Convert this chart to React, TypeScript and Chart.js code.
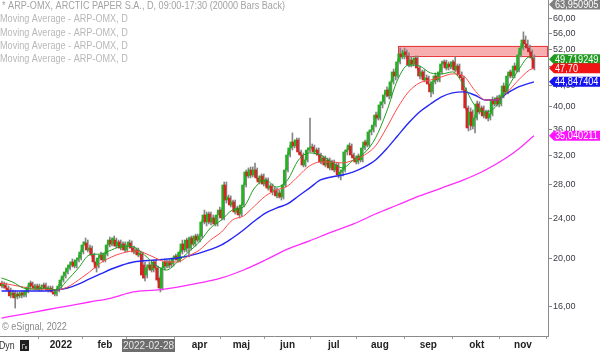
import React, { useEffect, useRef } from 'react';
import { Chart, registerables } from 'chart.js';
Chart.register(...registerables);

// ---- axis / categories ----
const monthIdx = [27, 47, 67, 90, 109, 130, 151, 172, 194, 216, 237];
const monthLabels = ['2022', 'feb', 'mar', 'apr', 'maj', 'jun', 'jul', 'aug', 'sep', 'okt', 'nov'];
const yTicks = [16, 20, 24, 28, 32, 36, 40, 44, 48, 52, 56, 60];

// ---- candles (ARP-OMX daily) ----
const opens = [
  17.84, 17.59, 17.67, 17.43, 17.27, 16.88, 17.04, 16.73, 16.96, 16.81,
  17.04, 16.88, 17.12, 17.51, 17.84, 17.59, 17.43, 17.59, 17.35, 17.51,
  17.67, 17.43, 17.27, 17.43, 17.12, 16.96, 17.27, 17.59, 18.08, 18.42,
  18.76, 19.11, 19.37, 19.64, 19.28, 19.82, 20.00, 20.56, 21.23, 21.43,
  20.75, 20.94, 20.28, 19.64, 19.28, 20.00, 20.28, 19.82, 20.37, 21.23,
  21.72, 21.33, 21.72, 21.13, 21.53, 20.94, 21.33, 20.75, 21.13, 21.43,
  20.94, 20.56, 20.75, 20.28, 20.37, 19.37, 18.50, 19.11, 19.37, 18.93,
  19.64, 19.11, 18.25, 17.43, 19.11, 19.64, 19.28, 19.64, 19.46, 20.00,
  20.19, 19.82, 20.56, 21.33, 20.75, 21.72, 20.94, 21.92, 21.33, 22.12,
  21.72, 22.12, 23.59, 24.36, 23.59, 24.47, 23.59, 24.03, 23.38, 24.36,
  24.92, 24.03, 27.95, 26.09, 26.33, 25.50, 25.85, 24.70, 25.15, 24.47,
  25.50, 27.95, 29.67, 29.13, 29.94, 29.26, 29.94, 28.87, 28.34, 29.13,
  28.08, 28.60, 27.56, 27.82, 27.07, 27.31, 26.58, 26.94, 26.46, 27.95,
  29.94, 32.07, 33.12, 34.04, 33.42, 34.35, 32.52, 32.07, 30.63, 31.34,
  32.81, 33.12, 33.27, 32.52, 32.81, 32.07, 31.06, 31.63, 30.63, 31.34,
  30.22, 31.06, 29.94, 30.63, 29.26, 29.67, 29.94, 32.52, 32.81, 33.42,
  32.07, 31.63, 31.06, 31.92, 31.34, 33.12, 34.04, 33.57, 35.64, 35.96,
  36.79, 38.52, 38.00, 40.33, 40.90, 42.22, 43.19, 42.04, 44.83, 46.93,
  46.06, 49.13, 50.95, 50.27, 51.44, 50.50, 48.44, 49.56, 48.67, 50.03,
  47.78, 46.06, 46.93, 45.22, 45.65, 44.41, 42.82, 44.83, 46.06, 45.22,
  46.93, 48.67, 49.13, 47.78, 48.67, 48.02, 49.13, 47.34, 48.22, 46.27,
  45.65, 43.19, 39.78, 36.79, 39.06, 36.63, 38.00, 40.52, 39.06, 39.78,
  38.35, 39.06, 38.00, 38.70, 41.26, 40.52, 41.65, 40.52, 42.04, 44.00,
  42.82, 46.06, 46.93, 46.06, 48.22, 47.34, 50.71, 52.37, 54.32, 53.34,
  52.37, 51.44, 50.03,
];
const closes = [
  17.59, 17.75, 17.43, 17.27, 16.81, 17.04, 16.66, 16.96, 16.81, 17.04,
  16.88, 17.12, 17.51, 17.84, 17.59, 17.43, 17.59, 17.35, 17.51, 17.67,
  17.43, 17.27, 17.43, 17.12, 16.96, 17.27, 17.59, 18.08, 18.42, 18.76,
  19.11, 19.37, 19.64, 19.28, 19.82, 20.00, 20.56, 21.23, 21.53, 20.75,
  20.94, 20.28, 19.64, 19.11, 20.00, 20.28, 19.82, 20.37, 21.23, 21.72,
  21.33, 21.92, 21.13, 21.53, 20.94, 21.33, 20.75, 21.13, 21.53, 20.94,
  20.56, 20.75, 20.28, 20.46, 18.50, 18.25, 19.11, 19.37, 18.93, 19.64,
  19.11, 18.08, 17.43, 19.11, 19.64, 19.28, 19.64, 19.37, 20.00, 20.19,
  19.82, 20.56, 21.33, 20.75, 21.72, 20.94, 21.92, 21.33, 22.12, 21.72,
  22.12, 23.59, 24.36, 23.59, 24.47, 23.59, 24.03, 23.38, 24.36, 24.92,
  24.03, 27.95, 26.09, 26.46, 25.50, 25.85, 24.70, 25.15, 24.36, 25.50,
  27.95, 29.67, 29.13, 29.94, 29.26, 29.94, 28.87, 28.34, 29.13, 28.08,
  28.60, 27.56, 27.82, 27.07, 27.31, 26.58, 26.94, 26.46, 27.95, 29.94,
  32.07, 33.12, 34.04, 33.42, 34.35, 32.52, 32.07, 30.63, 31.34, 32.81,
  33.12, 33.27, 32.52, 32.81, 32.07, 31.06, 31.63, 30.63, 31.34, 30.22,
  31.06, 29.94, 30.63, 29.26, 29.67, 29.94, 32.52, 32.81, 33.57, 32.07,
  31.63, 31.06, 31.92, 31.34, 33.12, 34.04, 33.57, 35.64, 35.96, 36.79,
  38.52, 38.00, 40.33, 40.90, 42.22, 43.19, 42.04, 44.83, 46.93, 46.06,
  49.13, 50.95, 50.27, 51.44, 50.71, 48.44, 49.56, 48.67, 50.03, 47.78,
  46.06, 46.93, 45.22, 45.65, 44.41, 42.82, 44.83, 46.06, 45.22, 46.93,
  48.67, 49.13, 47.78, 48.67, 48.02, 49.13, 47.34, 48.22, 46.27, 45.65,
  43.19, 39.78, 36.30, 39.06, 36.63, 38.00, 40.52, 39.06, 39.78, 38.35,
  39.06, 38.00, 38.70, 41.26, 40.52, 41.65, 40.52, 42.04, 44.00, 42.82,
  46.06, 46.93, 46.06, 48.22, 47.34, 50.71, 52.37, 54.32, 53.34, 52.37,
  51.44, 50.03, 47.70,
];
const highs = [
  18.00, 17.92, 17.84, 17.59, 17.43, 17.27, 17.20, 17.12, 17.12, 17.20,
  17.20, 17.27, 17.67, 18.00, 17.92, 17.75, 17.75, 17.75, 17.67, 17.84,
  17.84, 17.59, 17.59, 17.59, 17.27, 17.43, 17.75, 18.25, 18.67, 18.93,
  19.37, 19.64, 19.91, 19.82, 20.00, 20.28, 20.75, 21.53, 21.92, 21.72,
  21.23, 21.13, 20.46, 19.82, 20.19, 20.56, 20.46, 20.56, 21.43, 22.02,
  21.92, 22.12, 21.92, 21.72, 21.72, 21.53, 21.53, 21.33, 21.72, 21.63,
  21.13, 20.94, 20.94, 20.65, 20.56, 19.64, 19.37, 19.64, 19.55, 19.82,
  19.82, 19.28, 18.42, 19.28, 19.82, 19.82, 19.82, 19.82, 20.19, 20.37,
  20.37, 20.75, 21.72, 21.53, 21.92, 22.02, 22.12, 22.12, 22.32, 22.32,
  22.32, 23.81, 24.92, 24.70, 24.70, 24.70, 24.36, 24.25, 24.70, 25.27,
  25.15, 28.34, 28.34, 26.70, 26.58, 26.09, 26.09, 25.38, 25.38, 25.73,
  28.21, 29.94, 30.22, 30.36, 30.36, 30.92, 30.22, 29.13, 29.40, 29.40,
  28.87, 28.87, 28.08, 28.08, 27.69, 27.56, 27.31, 27.19, 28.21, 30.22,
  32.52, 33.57, 35.47, 34.35, 34.67, 34.67, 32.81, 32.37, 31.63, 33.12,
  38.00, 33.73, 33.57, 33.12, 33.12, 32.37, 31.92, 31.92, 31.63, 31.63,
  31.34, 31.34, 30.92, 30.92, 29.94, 30.22, 32.81, 33.27, 33.88, 33.73,
  32.37, 31.92, 32.22, 32.22, 33.42, 34.35, 34.35, 35.96, 36.47, 37.31,
  39.06, 39.06, 40.90, 41.45, 42.82, 43.81, 43.60, 45.22, 47.56, 47.78,
  49.80, 52.37, 51.89, 52.37, 51.89, 51.20, 50.27, 50.03, 50.50, 50.50,
  48.22, 47.34, 47.34, 46.27, 46.06, 44.83, 45.22, 46.72, 46.50, 47.34,
  49.34, 49.56, 49.56, 49.13, 49.13, 49.56, 50.27, 48.67, 48.67, 46.93,
  46.06, 43.60, 40.15, 39.78, 39.41, 38.52, 41.08, 40.90, 40.15, 40.15,
  39.41, 39.41, 39.06, 41.85, 41.65, 42.04, 42.22, 42.43, 44.62, 44.41,
  46.72, 47.34, 47.34, 48.90, 48.67, 51.44, 53.34, 56.38, 55.34, 54.32,
  53.09, 51.89, 50.71,
];
const lows = [
  17.43, 17.43, 17.27, 17.12, 16.66, 16.73, 15.90, 16.58, 16.66, 16.66,
  16.73, 16.73, 17.04, 17.35, 17.43, 17.27, 17.27, 17.20, 17.20, 17.35,
  17.27, 17.12, 17.12, 16.96, 16.81, 16.81, 17.12, 17.43, 17.92, 18.25,
  18.59, 18.93, 19.19, 19.11, 19.11, 19.64, 19.82, 20.37, 21.04, 20.56,
  20.56, 20.10, 19.46, 18.76, 19.11, 19.82, 19.64, 19.64, 20.19, 21.04,
  21.13, 21.13, 20.94, 20.94, 20.75, 20.75, 20.56, 20.56, 20.94, 20.75,
  20.37, 20.37, 20.10, 20.10, 18.25, 18.00, 18.25, 18.93, 18.76, 18.76,
  18.93, 17.92, 17.12, 17.27, 18.93, 19.11, 19.11, 19.19, 19.28, 19.82,
  19.64, 19.64, 20.37, 20.56, 20.56, 20.10, 20.75, 21.13, 21.13, 21.53,
  21.53, 21.92, 23.38, 23.16, 23.38, 23.27, 23.38, 23.16, 23.16, 24.14,
  23.81, 23.81, 25.73, 25.73, 25.27, 25.27, 24.47, 24.47, 24.03, 24.25,
  25.27, 27.69, 28.87, 28.87, 29.00, 29.00, 28.60, 28.08, 28.08, 27.82,
  27.82, 27.31, 27.31, 26.70, 26.70, 26.33, 26.33, 26.09, 26.21, 27.69,
  29.67, 31.78, 32.81, 33.12, 33.12, 32.22, 31.78, 30.36, 30.36, 31.06,
  32.52, 32.81, 32.22, 32.07, 31.78, 30.78, 30.78, 30.36, 30.36, 29.94,
  29.94, 29.67, 29.67, 28.87, 28.60, 29.13, 29.67, 32.07, 32.52, 31.78,
  31.34, 30.78, 30.78, 31.06, 31.06, 32.81, 33.27, 33.27, 35.15, 35.64,
  36.47, 37.64, 37.64, 39.78, 40.52, 41.85, 41.45, 41.65, 44.41, 45.22,
  45.65, 48.67, 49.80, 49.80, 50.03, 48.02, 48.02, 48.22, 48.22, 47.34,
  45.44, 45.65, 44.83, 44.62, 44.00, 41.85, 42.43, 44.41, 44.83, 44.83,
  46.50, 48.22, 47.34, 47.34, 47.56, 47.56, 46.93, 46.93, 45.87, 45.22,
  42.62, 39.41, 35.80, 35.96, 36.13, 35.47, 37.64, 38.70, 38.52, 38.00,
  37.82, 37.47, 37.64, 38.35, 40.15, 40.15, 39.97, 40.15, 41.65, 42.43,
  42.43, 45.65, 45.65, 45.65, 46.93, 46.93, 50.27, 51.89, 52.86, 51.66,
  50.71, 49.56, 47.34,
];

// ---- moving averages (read at sampled bars) ----
const fastIdx = [0, 5, 10, 15, 20, 25, 30, 35, 40, 45, 50, 55, 60, 65, 70, 75, 80, 85, 90, 95,
  100, 105, 110, 115, 120, 125, 130, 135, 140, 145, 150, 155, 160, 165, 170, 175, 180, 185, 190, 195,
  200, 205, 210, 215, 220, 225, 230, 235, 240, 242];
const greenMA = [
  18.25, 17.92, 17.43, 17.35, 17.43, 17.27, 18.08, 19.11, 20.28, 20.37,
  20.75, 21.13, 21.04, 20.28, 19.37, 18.93, 19.64, 20.56, 21.53, 22.95,
  23.81, 24.92, 25.27, 27.56, 28.60, 27.69, 28.60, 31.34, 32.37, 32.07,
  31.06, 30.22, 31.34, 32.37, 34.67, 39.06, 45.22, 48.44, 48.22, 46.72,
  46.50, 46.93, 44.20, 40.33, 39.06, 40.15, 43.60, 47.34, 50.27, 49.719249,
];
const redMA = [
  17.84, 17.67, 17.51, 17.35, 17.35, 17.27, 17.51, 18.08, 18.76, 19.55,
  20.10, 20.46, 20.65, 20.46, 20.00, 19.64, 19.64, 20.19, 20.75, 21.72,
  22.53, 23.81, 24.25, 25.38, 26.58, 27.31, 27.82, 29.13, 30.50, 31.06,
  31.06, 30.92, 31.34, 32.07, 33.42, 36.30, 39.78, 42.82, 44.62, 45.22,
  45.87, 46.50, 46.06, 43.19, 41.26, 41.26, 42.82, 45.22, 47.34, 47.70,
];
const blueIdx = [0, 10, 20, 25, 30, 35, 40, 45, 50, 55, 60, 70, 80, 90, 100, 105, 110, 115, 120, 125,
  130, 135, 140, 145, 150, 155, 160, 165, 170, 175, 180, 185, 190, 195, 200, 205, 210, 215, 220, 225,
  230, 235, 242];
const blueMA = [
  17.20, 17.20, 17.20, 17.27, 17.43, 17.75, 18.17, 18.59, 19.02, 19.37,
  19.64, 19.82, 20.00, 20.46, 21.23, 21.92, 22.74, 23.70, 24.58, 25.15,
  25.62, 26.58, 27.56, 28.60, 29.00, 29.26, 29.67, 30.36, 31.34, 32.97,
  34.99, 37.13, 39.06, 40.52, 41.85, 42.62, 42.82, 42.22, 41.26, 41.26,
  42.62, 43.81, 44.847404,
];
const slowIdx = [0, 10, 20, 30, 40, 50, 60, 70, 80, 90, 100, 110, 120, 130, 140, 150, 160, 170, 180,
  190, 200, 210, 220, 230, 235, 242];
const magentaMA = [
  15.19, 15.47, 15.76, 16.05, 16.35, 16.65, 17.12, 17.27, 17.51, 17.84,
  18.25, 18.93, 19.82, 20.84, 21.63, 22.53, 23.38, 24.47, 25.50, 26.58,
  27.56, 28.60, 29.94, 31.78, 32.97, 35.040211,
];

// ---- resistance zone & price tags ----
const zoneStart = 180.2;
const zoneLow = 50.5;
const zoneHigh = 52.9;
const tagValues = [63.950905, 49.719249, 47.70, 44.847404, 35.040211];
const tagTexts = ['63,950905', '49,719249', '47,70', '44,847404', '35,040211'];
const tagColors = ['#808080', '#1f9a1f', '#f01414', '#1414f0', '#ff14ff'];

const legendLines = [
  '* ARP-OMX, ARCTIC PAPER S.A., D, 09:00-17:30 (20000 Bars Back)',
  'Moving Average - ARP-OMX, D',
  'Moving Average - ARP-OMX, D',
  'Moving Average - ARP-OMX, D',
  'Moving Average - ARP-OMX, D',
];

const SANS = '"Liberation Sans", Arial, sans-serif';
const X_MIN = -0.68;
const X_MAX = 248.4;

function narrowText(ctx: CanvasRenderingContext2D, text: string, x: number, y: number, sx: number) {
  ctx.save();
  ctx.translate(x, y);
  ctx.scale(sx, 1);
  ctx.fillText(text, 0, 0);
  ctx.restore();
}

export default function App() {
  const ref = useRef<HTMLCanvasElement>(null);

  useEffect(() => {
    const canvas = ref.current;
    if (!canvas) return;

    const overlay = {
      id: 'overlay',
      beforeDatasetsDraw(chart: any) {
        const { ctx, chartArea, scales } = chart;
        const x0 = scales.x.getPixelForValue(zoneStart);
        const yTop = scales.y.getPixelForValue(zoneHigh);
        const yBot = scales.y.getPixelForValue(zoneLow);
        ctx.save();
        ctx.fillStyle = 'rgba(242, 120, 120, 0.6)';
        ctx.fillRect(x0, yTop, chartArea.right - x0, yBot - yTop);
        ctx.strokeStyle = '#e83a3a';
        ctx.lineWidth = 1;
        ctx.strokeRect(Math.round(x0) + 0.5, Math.round(yTop) + 0.5, chartArea.right - Math.round(x0) - 1, Math.round(yBot - yTop));
        ctx.restore();
      },
      afterDraw(chart: any) {
        const { ctx, chartArea, scales } = chart;
        ctx.save();
        ctx.textBaseline = 'middle';
        ctx.textAlign = 'left';
        ctx.font = `10px ${SANS}`;
        legendLines.forEach((t, i) => {
          ctx.fillStyle = i === 0 ? '#a3a3a3' : '#b8b8b8';
          narrowText(ctx, t, i === 0 ? 2 : 0, 6 + i * 13.4, 0.91);
        });
        ctx.fillStyle = '#8a8a8a';
        narrowText(ctx, '© eSignal, 2022', 2, 327, 0.91);
        // Dyn + icon
        ctx.fillStyle = '#333';
        ctx.font = `10px ${SANS}`;
        narrowText(ctx, 'Dyn', -1, 346, 0.88);
        ctx.fillStyle = '#1e1e1e';
        ctx.fillRect(20, 340, 9, 11);
        ctx.fillStyle = '#9a9a9a';
        ctx.fillRect(22, 344, 1, 5);
        ctx.fillRect(22, 344, 3, 1);
        ctx.fillRect(25, 346, 2, 3);
        // date box
        ctx.fillStyle = '#6e6e6e';
        ctx.fillRect(122, 339, 53, 13);
        ctx.fillStyle = '#e6e6e6';
        ctx.textAlign = 'center';
        ctx.fillText('2022-02-28', 148.5, 346);
        // price tags on the right axis
        ctx.textAlign = 'left';
        ctx.font = `10px ${SANS}`;
        const xr = chartArea.right;
        tagValues.forEach((v, i) => {
          const yc = scales.y.getPixelForValue(v);
          const h = 5;
          ctx.fillStyle = tagColors[i];
          ctx.beginPath();
          ctx.moveTo(xr + 1, yc);
          ctx.lineTo(xr + 6, yc - h);
          ctx.lineTo(600, yc - h);
          ctx.lineTo(600, yc + h);
          ctx.lineTo(xr + 6, yc + h);
          ctx.closePath();
          ctx.fill();
          ctx.fillStyle = '#ffffff';
          narrowText(ctx, tagTexts[i], xr + 7, yc + 0.5, 0.92);
        });
        ctx.restore();
      },
    };

    const upColor = '#22b222';
    const downColor = '#d42424';
    const bodyColors = opens.map((o, i) => (closes[i] >= o ? upColor : downColor));
    const pts = (idx: number[], vals: number[]) => idx.map((x, i) => ({ x, y: vals[i] }));

    const lineDs = (label: string, data: any[], color: string, width: number) => ({
      type: 'line' as const,
      label,
      data,
      borderColor: color,
      backgroundColor: color,
      borderWidth: width,
      pointRadius: 0,
      cubicInterpolationMode: 'monotone' as const,
      xAxisID: 'x',
      yAxisID: 'y',
      order: 1,
    });

    const chart = new Chart(canvas, {
      type: 'bar',
      data: {
        datasets: [
          lineDs('MA fast', pts(fastIdx, greenMA), '#1f9e1f', 1),
          lineDs('MA mid', pts(fastIdx, redMA), '#ff4a4a', 1),
          lineDs('MA 50', pts(blueIdx, blueMA), '#2626f5', 1.4),
          lineDs('MA 200', pts(slowIdx, magentaMA), '#ff2cff', 1.3),
          {
            type: 'bar',
            label: 'body',
            data: opens.map((o, i) => ({ x: i, y: [o, closes[i]] })),
            backgroundColor: bodyColors,
            borderWidth: 0,
            barThickness: 2,
            minBarLength: 1,
            xAxisID: 'x',
            yAxisID: 'y',
            order: 2,
          } as any,
          {
            type: 'bar',
            label: 'wick',
            data: lows.map((l, i) => ({ x: i, y: [l, highs[i]] })),
            backgroundColor: '#858585',
            borderWidth: 0,
            barThickness: 1,
            xAxisID: 'xw',
            yAxisID: 'y',
            order: 3,
          } as any,
        ],
      },
      options: {
        responsive: false,
        maintainAspectRatio: false,
        animation: false,
        devicePixelRatio: 1,
        layout: { padding: 0 },
        plugins: { legend: { display: false }, tooltip: { enabled: false } },
        scales: {
          x: {
            type: 'linear',
            position: 'bottom',
            min: X_MIN,
            max: X_MAX,
            offset: false,
            afterBuildTicks: (s: any) => {
              s.ticks = monthIdx.map((v) => ({ value: v }));
            },
            afterFit: (s: any) => {
              s.height = 17;
              s.paddingLeft = 0;
              s.paddingRight = 0;
            },
            ticks: {
              autoSkip: false,
              maxRotation: 0,
              padding: 0,
              color: '#222',
              font: { family: SANS, size: 10, weight: 'bold' },
              callback: (v: any) => {
                const k = monthIdx.indexOf(Number(v));
                return k >= 0 ? monthLabels[k] : '';
              },
            },
            grid: { drawOnChartArea: false, drawTicks: true, tickLength: 3, color: '#9a9a9a' },
            border: { display: true, color: '#8a8a8a' },
          },
          xw: {
            type: 'linear',
            display: false,
            min: X_MIN,
            max: X_MAX,
            offset: false,
          },
          y: {
            type: 'logarithmic',
            position: 'right',
            min: 13.99,
            max: 65.25,
            afterBuildTicks: (s: any) => {
              s.ticks = yTicks.map((v) => ({ value: v }));
            },
            afterFit: (s: any) => {
              s.width = 52;
              s.paddingTop = 0;
              s.paddingBottom = 0;
            },
            ticks: {
              padding: 1,
              color: '#3a3a44',
              font: { family: SANS, size: 9 },
              callback: (v: any) => Number(v).toFixed(2).replace('.', ','),
            },
            grid: { drawOnChartArea: false, drawTicks: true, tickLength: 4, color: '#8a8a8a' },
            border: { display: true, color: '#8a8a8a' },
          },
        },
      } as any,
      plugins: [overlay],
    });

    return () => chart.destroy();
  }, []);

  return (
    <div style={{ position: 'fixed', left: 0, top: 0, width: 600, height: 353, background: '#fff' }}>
      <canvas ref={ref} width={600} height={353} style={{ display: 'block', width: 600, height: 353 }} />
    </div>
  );
}
